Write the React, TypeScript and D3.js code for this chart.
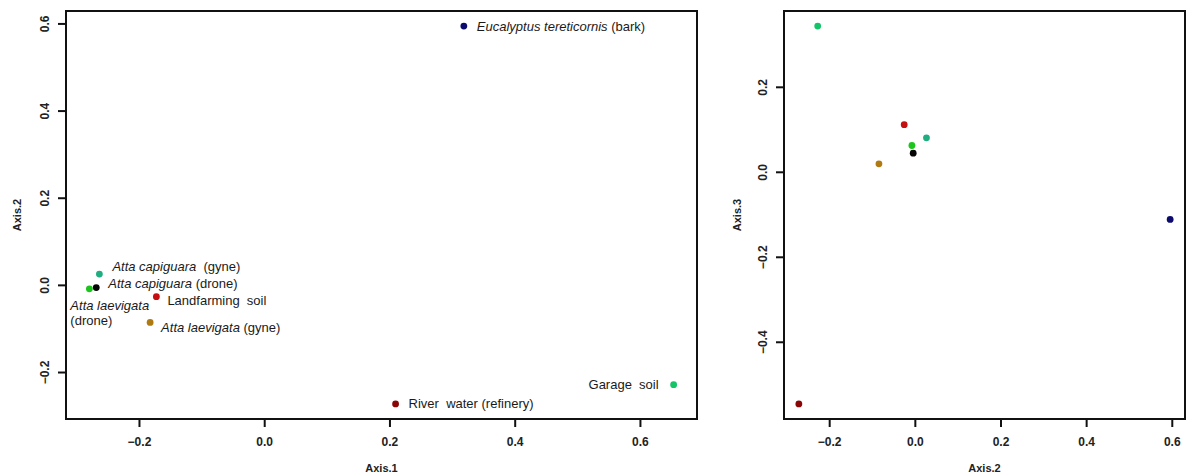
import React from "react";
import * as d3 from "d3";

// ---- Data (PCoA scores) ----
const samples = [
  "Eucalyptus tereticornis (bark)",
  "Atta capiguara (gyne)",
  "Atta capiguara (drone)",
  "Atta laevigata (drone)",
  "Landfarming soil",
  "Atta laevigata (gyne)",
  "River water (refinery)",
  "Garage soil",
];
const axis1 = [0.318, -0.264, -0.269, -0.28, -0.173, -0.183, 0.209, 0.653];
const axis2 = [0.595, 0.026, -0.005, -0.008, -0.026, -0.085, -0.272, -0.228];
const axis3 = [-0.111, 0.081, 0.045, 0.063, 0.112, 0.02, -0.545, 0.344];
const colors = ["#0b0b6e", "#1fae80", "#050505", "#1ec41e", "#c41010", "#b07a12", "#8a0606", "#14c468"];
const ticksAxis1 = [-0.2, 0.0, 0.2, 0.4, 0.6];
const ticksAxis2 = [-0.2, 0.0, 0.2, 0.4, 0.6];
const ticksAxis3 = [-0.4, -0.2, 0.0, 0.2];

// label parts: [italic, normal]
const labelParts: [string, string][] = [
  ["Eucalyptus tereticornis", " (bark)"],
  ["Atta capiguara", "  (gyne)"],
  ["Atta capiguara", " (drone)"],
  ["Atta laevigata", ""],
  ["", "Landfarming  soil"],
  ["Atta laevigata", " (gyne)"],
  ["", "River  water (refinery)"],
  ["", "Garage  soil"],
];
// label placement (pixels relative to point)
const labelOffsets = [
  { dx: 13, dy: 0, anchor: "start" },
  { dx: 13, dy: -8, anchor: "start" },
  { dx: 12, dy: -4, anchor: "start" },
  { dx: -19, dy: 17, anchor: "start", second: "(drone)", dy2: 32 },
  { dx: 11, dy: 4, anchor: "start" },
  { dx: 11, dy: 5, anchor: "start" },
  { dx: 13, dy: 0, anchor: "start" },
  { dx: -15, dy: 0, anchor: "end" },
];

const FONT = "'Liberation Sans', Arial, Helvetica, sans-serif";

function pad(vals: number[]): [number, number] {
  const lo = d3.min(vals)!;
  const hi = d3.max(vals)!;
  const r = hi - lo;
  return [lo - 0.04 * r, hi + 0.04 * r];
}

function fmt(v: number) {
  return v < 0 ? "\u2212" + Math.abs(v).toFixed(1) : v.toFixed(1);
}

type PanelProps = {
  xs: number[];
  ys: number[];
  xTicks: number[];
  yTicks: number[];
  left: number;
  right: number;
  top: number;
  bottom: number;
  xLabel: string;
  yLabel: string;
  yTickX: number;
  yLabelX: number;
  labels: boolean;
};

function Panel(p: PanelProps) {
  const x = d3.scaleLinear().domain(pad(p.xs)).range([p.left, p.right]);
  const y = d3.scaleLinear().domain(pad(p.ys)).range([p.bottom, p.top]);
  const midX = (p.left + p.right) / 2;
  const midY = (p.top + p.bottom) / 2;
  return (
    <g>
      <rect
        x={p.left}
        y={p.top}
        width={p.right - p.left}
        height={p.bottom - p.top}
        fill="none"
        stroke="#111"
        strokeWidth={2}
      />
      {p.xTicks.map((t) => (
        <g key={"x" + t}>
          <line x1={x(t)} x2={x(t)} y1={p.bottom} y2={p.bottom + 8} stroke="#111" strokeWidth={2} />
          <text
            x={x(t)}
            y={p.bottom + 27}
            textAnchor="middle"
            fontFamily={FONT}
            fontWeight="bold"
            fontSize={12}
            fill="#222"
          >
            {fmt(t)}
          </text>
        </g>
      ))}
      {p.yTicks.map((t) => (
        <g key={"y" + t}>
          <line x1={p.left - 8} x2={p.left} y1={y(t)} y2={y(t)} stroke="#111" strokeWidth={2} />
          <text
            transform={`translate(${p.yTickX},${y(t)}) rotate(-90)`}
            textAnchor="middle"
            dy="0.35em"
            fontFamily={FONT}
            fontWeight="bold"
            fontSize={12}
            fill="#222"
          >
            {fmt(t)}
          </text>
        </g>
      ))}
      <text
        x={midX}
        y={472}
        textAnchor="middle"
        fontFamily={FONT}
        fontWeight="bold"
        fontSize={11}
        fill="#222"
      >
        {p.xLabel}
      </text>
      <text
        transform={`translate(${p.yLabelX},${midY}) rotate(-90)`}
        textAnchor="middle"
        dy="0.35em"
        fontFamily={FONT}
        fontWeight="bold"
        fontSize={11}
        fill="#222"
      >
        {p.yLabel}
      </text>
      {p.xs.map((v, i) => (
        <circle key={"c" + i} cx={x(v)} cy={y(p.ys[i])} r={3.4} fill={colors[i]} />
      ))}
      {p.labels &&
        p.xs.map((v, i) => {
          const o = labelOffsets[i];
          const px = x(v) + o.dx;
          const py = y(p.ys[i]);
          const [it, nm] = labelParts[i];
          return (
            <g key={"l" + i}>
              <text
                x={px}
                y={py + o.dy}
                dy="0.35em"
                textAnchor={o.anchor as any}
                fontFamily={FONT}
                fontSize={13}
                fill="#1a1a1a"
                style={{ whiteSpace: "pre" }}
              >
                {it && <tspan fontStyle="italic">{it}</tspan>}
                {nm && <tspan>{nm}</tspan>}
              </text>
              {o.second && (
                <text
                  x={px}
                  y={py + (o.dy2 as number)}
                  dy="0.35em"
                  textAnchor="start"
                  fontFamily={FONT}
                  fontSize={13}
                  fill="#1a1a1a"
                >
                  {o.second}
                </text>
              )}
            </g>
          );
        })}
    </g>
  );
}

export default function App() {
  return (
    <svg
      width={1186}
      height={475}
      style={{ position: "absolute", left: 0, top: 0, background: "#fff" }}
    >
      <rect width={1186} height={475} fill="#fff" />
      <Panel
        xs={axis1}
        ys={axis2}
        xTicks={ticksAxis1}
        yTicks={ticksAxis2}
        left={66}
        right={697}
        top={11}
        bottom={419}
        xLabel="Axis.1"
        yLabel="Axis.2"
        yTickX={45}
        yLabelX={17}
        labels={true}
      />
      <Panel
        xs={axis2}
        ys={axis3}
        xTicks={ticksAxis2}
        yTicks={ticksAxis3}
        left={784}
        right={1185}
        top={11}
        bottom={419}
        xLabel="Axis.2"
        yLabel="Axis.3"
        yTickX={763}
        yLabelX={737}
        labels={false}
      />
    </svg>
  );
}
